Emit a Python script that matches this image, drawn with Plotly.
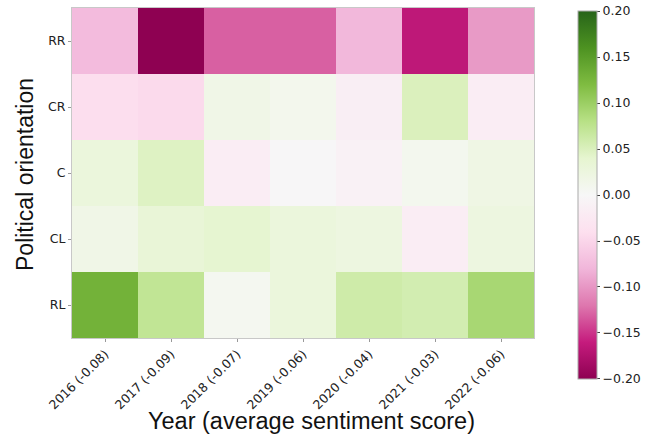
import plotly.graph_objects as go

years = ["2016 (-0.08)", "2017 (-0.09)", "2018 (-0.07)", "2019 (-0.06)",
         "2020 (-0.04)", "2021 (-0.03)", "2022 (-0.06)"]
orientations = ["RR", "CR", "C", "CL", "RL"]

rr = [-0.075, -0.20, -0.13, -0.13, -0.078, -0.165, -0.098]
cr = [-0.042, -0.046, 0.016, 0.01, -0.016, 0.05, -0.017]
c = [0.028, 0.047, -0.017, -0.002, -0.01, 0.009, 0.02]
cl = [0.016, 0.033, 0.039, 0.028, 0.024, -0.017, 0.024]
rl = [0.13, 0.072, 0.007, 0.028, 0.061, 0.057, 0.091]

z = [rr, cr, c, cl, rl]

cb_vals = [-0.20, -0.15, -0.10, -0.05, 0.00, 0.05, 0.10, 0.15, 0.20]
cb_text = [("\u2212" if v < 0 else "") + f"{abs(v):.2f}" for v in cb_vals]
cb_pos = [v * 0.9999 for v in cb_vals]

W, H = 652, 437
L, R, T, B = 72, 118, 8, 99
pw, ph = W - L - R, H - T - B

fig = go.Figure(go.Heatmap(
    z=z, x=years, y=orientations,
    colorscale="PiYG", zmin=-0.2, zmax=0.2,
    colorbar=dict(
        x=(578 - L) / pw, xanchor="left",
        y=(H - B - 11) / ph, yanchor="top",
        lenmode="pixels", len=368,
        thickness=19, thicknessmode="pixels",
        xpad=0, ypad=0,
        outlinecolor="#aaaaaa", outlinewidth=1,
        tickvals=cb_pos, ticktext=cb_text,
        ticks="outside", ticklen=3, tickcolor="#444",
        tickfont=dict(family="DejaVu Sans", size=12.5, color="#222"),
    ),
))

fig.update_layout(
    width=W, height=H,
    margin=dict(l=L, r=R, t=T, b=B, autoexpand=False),
    paper_bgcolor="white", plot_bgcolor="white",
    xaxis=dict(
        automargin=False,
        tickangle=-45,
        tickfont=dict(family="DejaVu Sans", size=12.5, color="#222"),
        ticks="outside", ticklen=3, tickcolor="#999",
        showline=True, linecolor="#c8c8c8", mirror=True,
    ),
    yaxis=dict(
        automargin=False,
        autorange="reversed",
        tickfont=dict(family="DejaVu Sans", size=12.5, color="#222"),
        ticks="outside", ticklen=3, tickcolor="#999",
        showline=True, linecolor="#c8c8c8", mirror=True,
    ),
    annotations=[
        dict(text="Year (average sentiment score)", xref="paper", yref="paper",
             x=(311 - L) / pw, y=(H - B - 421) / ph, xanchor="center", yanchor="middle",
             showarrow=False, font=dict(family="Liberation Sans", size=23.5, color="#111")),
        dict(text="Political orientation", xref="paper", yref="paper",
             x=(25 - L) / pw, y=(H - B - 175) / ph, xanchor="center", yanchor="middle",
             textangle=-90, showarrow=False,
             font=dict(family="Liberation Sans", size=23, color="#111")),
    ],
)

fig.write_html("out.html", config={"displayModeBar": False},
               post_script="document.body.style.margin='0';document.body.style.padding='0';")
